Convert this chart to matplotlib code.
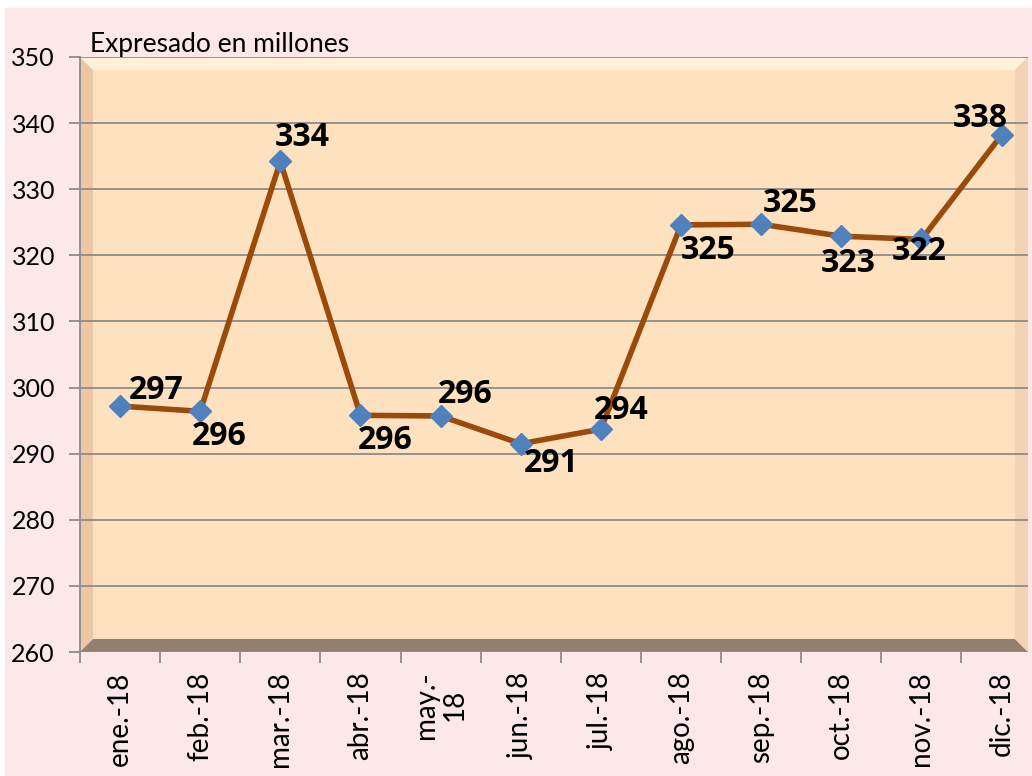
import numpy as np
import matplotlib
matplotlib.use("Agg")
import matplotlib.pyplot as plt
from matplotlib.patches import Rectangle, Polygon

plt.rcParams['font.family'] = ['Lato', 'DejaVu Sans']

# monthly totals, 2018
meses = ['ene.-18', 'feb.-18', 'mar.-18', 'abr.-18', 'may.-\n18', 'jun.-18',
         'jul.-18', 'ago.-18', 'sep.-18', 'oct.-18', 'nov.-18', 'dic.-18']
valores = [297.2, 296.4, 334.2, 295.8, 295.7, 291.5,
           293.7, 324.6, 324.7, 322.9, 322.4, 338.2]
etiquetas = ['297', '296', '334', '296', '296', '291',
             '294', '325', '325', '323', '322', '338']

# label offsets from each marker, in pixels (x right, y up)
desplaz = [(36, 16), (19, -25), (22, 24), (25, -25), (25, 21), (30, -20),
           (20, 19), (27, -26), (29, 21), (7, -27), (-2, -12), (-21, 17)]

W, H = 1032, 776
fig = plt.figure(figsize=(W / 100, H / 100), dpi=100)
fig.patch.set_facecolor('white')

# background layer in pixel coordinates
bg = fig.add_axes([0, 0, 1, 1], zorder=0)
bg.axis('off')


def grad(ax, x0, x1, y0, y1, c0, c1, vertical=False):
    n = 64
    t = np.linspace(0, 1, n)
    c0 = np.array(matplotlib.colors.to_rgb(c0))
    c1 = np.array(matplotlib.colors.to_rgb(c1))
    col = c0[None, :] * (1 - t[:, None]) + c1[None, :] * t[:, None]
    img = col[:, None, :] if vertical else col[None, :, :]
    ax.imshow(img, extent=(x0, x1, y1, y0), aspect='auto', interpolation='bilinear')


# outer chart panel with bevel
bg.add_patch(Rectangle((5, 8), W - 5, H - 8, color='#fce8e8', zorder=1))
grad(bg, 5, W, 8, 24, '#fbe3e3', '#fefafa', vertical=True)
grad(bg, 5, 22, 24, H - 8, '#c9b4b7', '#fce8e8')
grad(bg, 5, W, H - 8, H, '#b8a8a8', '#8a7a7a', vertical=True)
bg.set_xlim(0, W)
bg.set_ylim(H, 0)

# plot area placement (pixels)
L, R, T, B = 80, 1028, 57, 652
ax = fig.add_axes([L / W, 1 - B / H, (R - L) / W, (B - T) / H], zorder=2)
ax.set_facecolor('#fee2bf')

# bevel of the plot area, drawn in axes fraction
tr = ax.transAxes
bw = 13 / (R - L)
bh = 13 / (B - T)
ax.add_patch(Polygon([(0, 0), (bw, bh), (bw, 1 - bh), (0, 1)], closed=True,
                     transform=tr, color='#ebc7a3', zorder=0.5, lw=0))
ax.add_patch(Polygon([(0, 1), (bw, 1 - bh), (1 - bw, 1 - bh), (1, 1)], closed=True,
                     transform=tr, color='#fff0d8', zorder=0.5, lw=0))
ax.add_patch(Polygon([(0, 0), (1, 0), (1 - bw, bh), (bw, bh)], closed=True,
                     transform=tr, color='#937f6f', zorder=0.5, lw=0))
ax.add_patch(Polygon([(1, 0), (1, 1), (1 - bw, 1 - bh), (1 - bw, bh)], closed=True,
                     transform=tr, color='#f2d3b3', zorder=0.5, lw=0))

x = np.arange(len(meses))
ax.set_xlim(-0.5, 11.33)
ax.set_ylim(260, 350)
ax.set_yticks(np.arange(260, 351, 10))
ax.grid(axis='y', color='#8c8c8c', lw=1.3, zorder=1)
ax.set_axisbelow(True)

ax.plot(x, valores, color='#9a4a0a', lw=4, zorder=3,
        marker='D', markersize=11, markerfacecolor='#4f81bd',
        markeredgecolor='#4f81bd')

for xi, v, t, (dx, dy) in zip(x, valores, etiquetas, desplaz):
    ax.annotate(t, (xi, v), xytext=(dx, dy), textcoords='offset pixels',
                ha='center', va='center', fontsize=23, fontweight='bold',
                family=['Open Sans', 'DejaVu Sans'], zorder=4)

# ticks on category boundaries, labels centred on categories
ax.set_xticks(np.arange(-0.5, 11.5, 1))
ax.set_xticklabels([])
ax.set_xticks(x, minor=True)
ax.set_xticklabels(meses, minor=True, rotation=90, fontsize=20,
                   ha='center', va='top', multialignment='center',
                   linespacing=1.15)
ax.tick_params(axis='x', which='major', direction='out', length=8,
               color='#8c8c8c', width=1.3)
ax.tick_params(axis='x', which='minor', length=0, pad=14)
ax.tick_params(axis='y', direction='out', length=8, color='#8c8c8c',
               width=1.3, labelsize=18, pad=10)

for sp in ['top', 'right', 'bottom']:
    ax.spines[sp].set_visible(False)
ax.spines['left'].set_color('#8c8c8c')
ax.spines['left'].set_linewidth(1.3)

fig.text(90 / W, 1 - 52 / H, 'Expresado en millones', fontsize=19,
         ha='left', va='baseline', zorder=5)

fig.savefig('out.png', dpi=100)
